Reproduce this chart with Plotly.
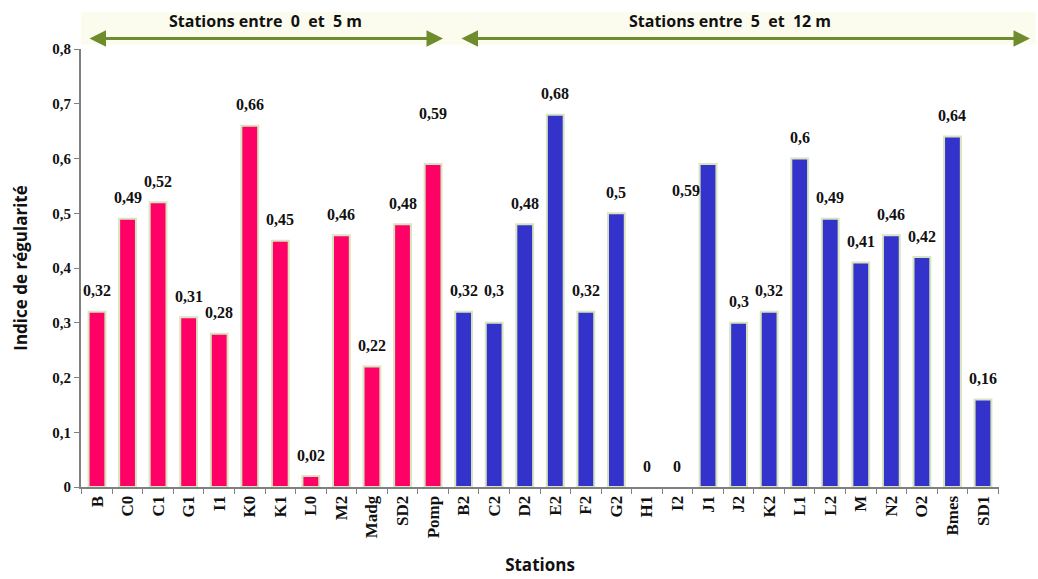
import plotly.graph_objects as go

stations = ["B", "C0", "C1", "G1", "I1", "K0", "K1", "L0", "M2", "Madg", "SD2", "Pomp",
            "B2", "C2", "D2", "E2", "F2", "G2", "H1", "I2", "J1", "J2", "K2", "L1", "L2",
            "M", "N2", "O2", "Bmes", "SD1"]
values = [0.32, 0.49, 0.52, 0.31, 0.28, 0.66, 0.45, 0.02, 0.46, 0.22, 0.48, 0.59,
          0.32, 0.30, 0.48, 0.68, 0.32, 0.50, 0.0, 0.0, 0.59, 0.30, 0.32, 0.60, 0.49,
          0.41, 0.46, 0.42, 0.64, 0.16]
groups = ["shallow"] * 12 + ["deep"] * 18
y_ticks = [0, 0.1, 0.2, 0.3, 0.4, 0.5, 0.6, 0.7, 0.8]
y_tick_text = ["0", "0,1", "0,2", "0,3", "0,4", "0,5", "0,6", "0,7", "0,8"]

# label pixel offsets (style only)
label_dy = [21] * 30
label_dx = [0] * 30
label_dy[11] = 50   # Pomp
label_dy[13] = 32   # C2
label_dy[20] = -27  # J1
label_dx[20] = -22

colors = {"shallow": "#FF0066", "deep": "#3333CC"}

fig = go.Figure()
fig.add_trace(go.Bar(
    x=stations, y=values,
    marker=dict(color=[colors[g] for g in groups],
                line=dict(color="#D7E4BD", width=[2 if v > 0 else 0 for v in values])),
    width=0.55,
    showlegend=False, hoverinfo="x+y",
))

for s, v, dy, dx in zip(stations, values, label_dy, label_dx):
    txt = ("%g" % v).replace(".", ",")
    fig.add_annotation(x=s, y=v, text="<b>" + txt + "</b>", showarrow=False, yshift=dy, xshift=dx,
                       font=dict(family="Liberation Serif", size=16, color="#111111"),
                       yanchor="middle", xanchor="center")

# pale band behind the arrows
fig.add_shape(type="rect", xref="paper", yref="paper", x0=0.0, x1=1.04, y0=1.01, y1=1.085,
              fillcolor="#FCFCEE", line=dict(width=0), layer="below")

arrow_col = "#6E8B2E"
# left double arrow: x 88 -> 443 px, right: 460 -> 1030 px (plot left at 81, width 918)
for x_end, length in [((443 - 81) / 918, 443 - 88), ((1030 - 81) / 918, 1030 - 460)]:
    fig.add_annotation(xref="paper", yref="paper", x=x_end, y=1.024, ax=-length, ay=0,
                       axref="pixel", ayref="pixel", text="", showarrow=True,
                       arrowhead=2, arrowside="end+start", arrowsize=1.1, arrowwidth=3,
                       arrowcolor=arrow_col)

fig.add_annotation(xref="paper", yref="paper", x=(265 - 81) / 918, y=1.065, showarrow=False,
                   xanchor="center", yanchor="middle",
                   text="<b>Stations entre  0  et  5 m</b>",
                   font=dict(family="Open Sans", size=16, color="#111111"))
fig.add_annotation(xref="paper", yref="paper", x=(730 - 81) / 918, y=1.065, showarrow=False,
                   xanchor="center", yanchor="middle",
                   text="<b>Stations entre  5  et  12 m</b>",
                   font=dict(family="Open Sans", size=16, color="#111111"))

fig.update_layout(
    width=1038, height=579,
    margin=dict(l=81, r=39, t=49, b=92),
    paper_bgcolor="white", plot_bgcolor="white",
    bargap=0.45,
    xaxis=dict(
        type="category", tickangle=-90, showline=True, linecolor="#808080", linewidth=2,
        ticks="outside", tickcolor="#808080", ticklen=5, tickson="boundaries",
        automargin=False,
        tickfont=dict(family="Liberation Serif", size=17, color="#111111", weight="bold"),
        title=dict(text="<b>Stations</b>", font=dict(family="Open Sans", size=17, color="#111111"),
                   standoff=22),
        showgrid=False, zeroline=False,
    ),
    yaxis=dict(
        range=[0, 0.8], tickvals=y_ticks, ticktext=y_tick_text, showline=True,
        linecolor="#808080", linewidth=2, ticks="outside", tickcolor="#808080", ticklen=5,
        automargin=False,
        tickfont=dict(family="Liberation Serif", size=15, color="#111111", weight="bold"),
        title=dict(text="<b>Indice de régularité</b>",
                   font=dict(family="Open Sans", size=17, color="#111111"), standoff=20),
        showgrid=False, zeroline=False,
    ),
)

fig.write_html("out.html")
